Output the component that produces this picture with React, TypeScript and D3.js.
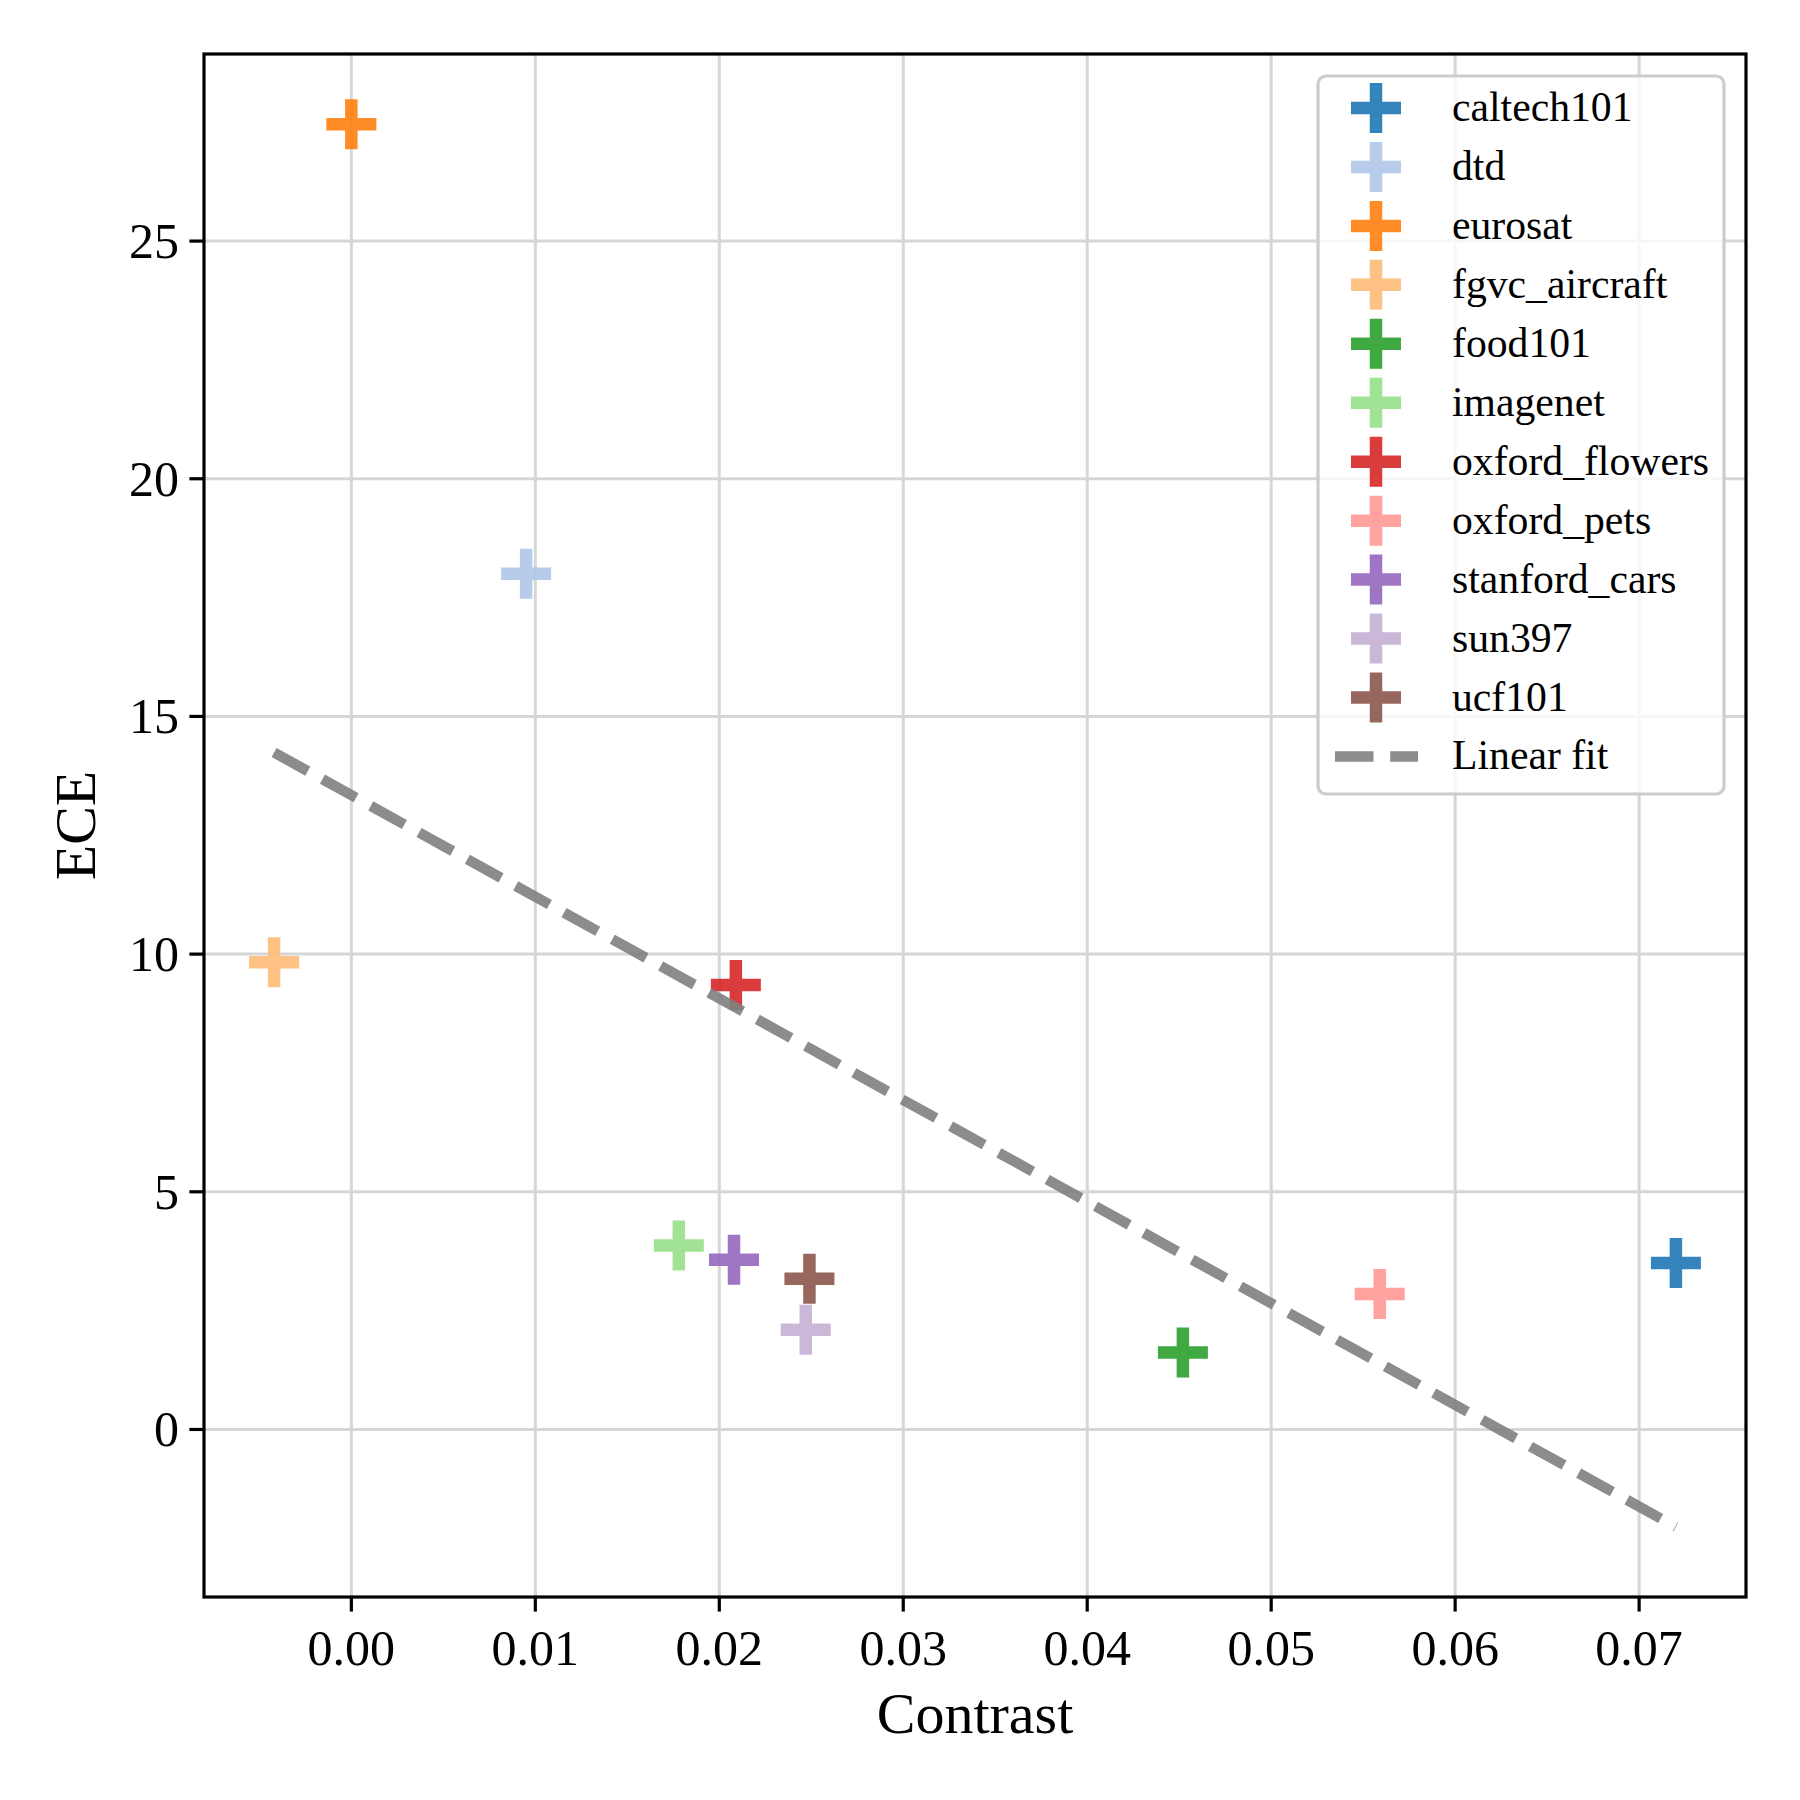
import React from "react";
import * as d3 from "d3";

const datasets = ["caltech101", "dtd", "eurosat", "fgvc_aircraft", "food101", "imagenet", "oxford_flowers", "oxford_pets", "stanford_cars", "sun397", "ucf101"];
const contrast = [0.072, 0.0095, 0.0, -0.0042, 0.0452, 0.0178, 0.0209, 0.0559, 0.0208, 0.0247, 0.0249];
const ece = [3.5, 18.0, 27.46, 9.83, 1.62, 3.87, 9.35, 2.85, 3.57, 2.1, 3.17];
const colors = ["#1f77b4", "#aec7e8", "#ff7f0e", "#ffbb78", "#2ca02c", "#98df8a", "#d62728", "#ff9896", "#9467bd", "#c5b0d5", "#8c564b"];
const xTicks = [0, 0.01, 0.02, 0.03, 0.04, 0.05, 0.06, 0.07];
const yTicks = [0, 5, 10, 15, 20, 25];
const fitLabel = "Linear fit";

const W = 1800, H = 1800;
const L = 204, R = 1746, T = 54, B = 1597;
const FONT = "'Liberation Serif', 'Times New Roman', serif";

export default function App() {
  // least-squares linear fit
  const mx = d3.mean(contrast)!;
  const my = d3.mean(ece)!;
  let sxy = 0, sxx = 0;
  contrast.forEach((x, i) => { sxy += (x - mx) * (ece[i] - my); sxx += (x - mx) * (x - mx); });
  const slope = sxy / sxx;
  const intercept = my - slope * mx;
  const [x0, x1] = d3.extent(contrast) as [number, number];
  const fitPts: [number, number][] = [[x0, intercept + slope * x0], [x1, intercept + slope * x1]];

  const xr = x1 - x0;
  const allY = ece.concat(fitPts.map(p => p[1]));
  const [y0, y1] = d3.extent(allY) as [number, number];
  const yr = y1 - y0;
  const x = d3.scaleLinear().domain([x0 - 0.05 * xr, x1 + 0.05 * xr]).range([L, R]);
  const y = d3.scaleLinear().domain([y0 - 0.05 * yr, y1 + 0.05 * yr]).range([B, T]);

  const line = d3.line<[number, number]>().x(p => x(p[0])).y(p => y(p[1]));

  const plus = (cx: number, cy: number, color: string, key: string) => (
    <g key={key} opacity={0.9}>
      <path d={`M${cx - 25},${cy}H${cx + 25}M${cx},${cy - 25}V${cy + 25}`} stroke={color} strokeWidth={12.5} fill="none" strokeLinecap="butt" />
    </g>
  );

  const legX = 1318, legY = 76, legW = 406, legH = 718;
  const rowY = (i: number) => 108 + i * 58.95;

  return (
    <svg width={W} height={H} style={{ position: "absolute", left: 0, top: 0, background: "#fff" }} fontFamily={FONT}>
      <rect x={0} y={0} width={W} height={H} fill="#fff" />
      {/* grid */}
      <g stroke="#d6d6d6" strokeWidth={3}>
        {xTicks.map(t => <line key={"gx" + t} x1={x(t)} x2={x(t)} y1={T} y2={B} />)}
        {yTicks.map(t => <line key={"gy" + t} x1={L} x2={R} y1={y(t)} y2={y(t)} />)}
      </g>
      {/* markers */}
      {datasets.map((d, i) => plus(x(contrast[i]), y(ece[i]), colors[i], d))}
      {/* fit line */}
      <path d={line(fitPts)!} stroke="#808080" strokeOpacity={0.9} strokeWidth={10.4} fill="none" strokeDasharray="38.5 16.7" strokeLinecap="butt" />
      {/* spines */}
      <rect x={L} y={T} width={R - L} height={B - T} fill="none" stroke="#000" strokeWidth={3.2} />
      {/* ticks */}
      <g stroke="#000" strokeWidth={3.2}>
        {xTicks.map(t => <line key={"tx" + t} x1={x(t)} x2={x(t)} y1={B} y2={B + 14.6} />)}
        {yTicks.map(t => <line key={"ty" + t} x1={L} x2={L - 14.6} y1={y(t)} y2={y(t)} />)}
      </g>
      <g fontSize={50} fill="#000">
        {xTicks.map(t => <text key={"lx" + t} x={x(t)} y={B + 68} textAnchor="middle">{d3.format(".2f")(t)}</text>)}
        {yTicks.map(t => <text key={"ly" + t} x={L - 25} y={y(t) + 17} textAnchor="end">{t}</text>)}
      </g>
      <text x={(L + R) / 2} y={1733} fontSize={58} textAnchor="middle">Contrast</text>
      <text transform={`translate(95,${(T + B) / 2}) rotate(-90)`} fontSize={58} textAnchor="middle">ECE</text>
      {/* legend */}
      <rect x={legX} y={legY} width={legW} height={legH} rx={8} ry={8} fill="#fff" fillOpacity={0.8} stroke="#cccccc" strokeWidth={3.2} />
      {datasets.map((d, i) => (
        <g key={"leg" + d}>
          {plus(1376, rowY(i), colors[i], "lm" + d)}
          <text x={1452} y={rowY(i) + 13} fontSize={41.7}>{d}</text>
        </g>
      ))}
      <line x1={1335} x2={1418} y1={rowY(11)} y2={rowY(11)} stroke="#808080" strokeOpacity={0.9} strokeWidth={10.4} strokeDasharray="38.5 16.7" />
      <text x={1452} y={rowY(11) + 13} fontSize={41.7}>{fitLabel}</text>
    </svg>
  );
}
